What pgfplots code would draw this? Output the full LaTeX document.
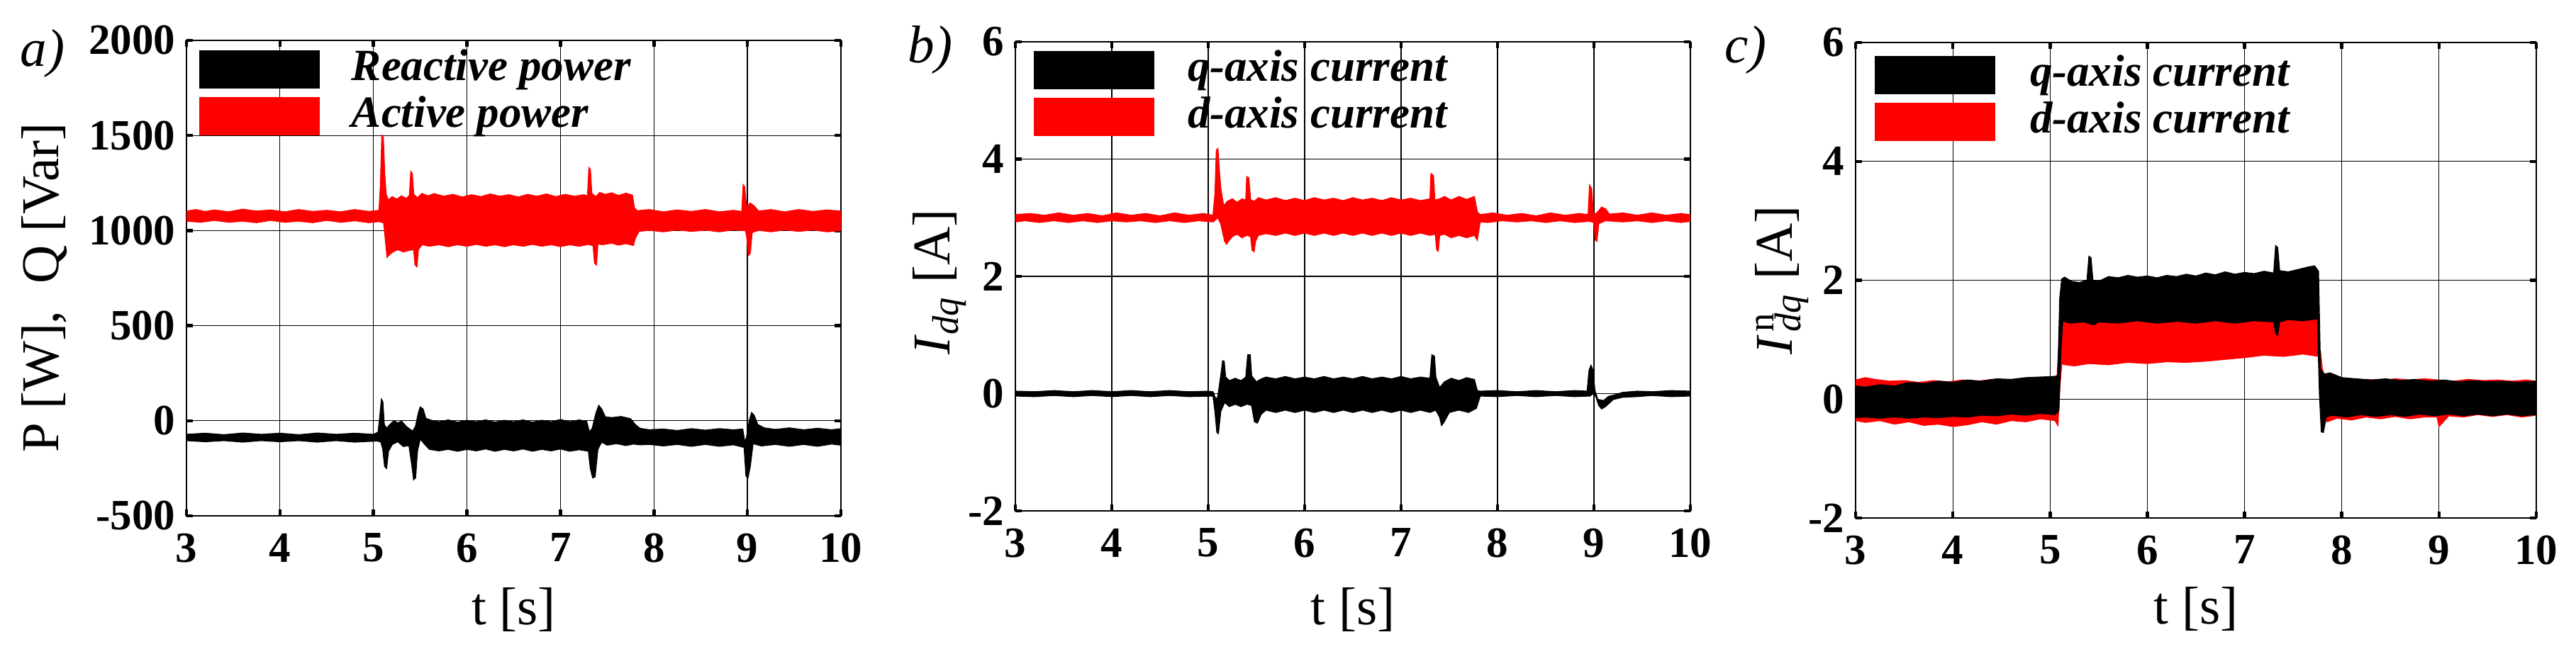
\documentclass[border=0pt]{standalone}
\usepackage{pgfplots}
\pgfplotsset{compat=1.18}
\usepackage{fontspec}
\setmainfont{Liberation Serif}
\begin{document}
\begin{tikzpicture}
\useasboundingbox (0,0) rectangle (726.6pt,184.6pt);
\pgfplotsset{
 mystyle/.style={
  scale only axis, anchor=south west, xmin=3, xmax=10, xtick={3,...,10},
  grid=major, grid style={line width=0.25pt, black},
  axis line style={line width=0.3pt},
  tick align=inside, major tick length=1.8pt, tick style={line width=0.9pt, black},
  /pgf/number format/assume math mode=true, /pgf/number format/1000 sep={},
  scaled y ticks=false,
  ticklabel style={font=\fontsize{12.2}{12.2}\selectfont\bfseries},
  xticklabel style={inner sep=0pt, anchor=north, yshift=-4.8pt},
  yticklabel style={inner sep=0pt, anchor=east, xshift=-3pt},
  label style={font=\fontsize{15}{15}\selectfont},
  legend style={draw=none, fill=none, inner sep=0pt, row sep=2.4pt,
    cells={anchor=west}, nodes={inner sep=0pt, text height=8.4pt, text depth=2pt},
    font=\fontsize{12.6}{12.6}\selectfont\bfseries\itshape},
  legend image code/.code={\fill[##1] (0pt,-5.2pt) rectangle (33.6pt,5.2pt);},
 }
}
% ---------------- a) ----------------
\begin{axis}[mystyle, at={(52.6pt,39pt)}, width=184.6pt, height=134.2pt,
  ymin=-500, ymax=2000, ytick={-500,0,500,1000,1500,2000},
  xlabel={t [s]}, ylabel={P [W],\ \ Q [Var]},
  xlabel style={at={(axis description cs:0.5,-0.197)}, anchor=center},
  ylabel style={at={(axis description cs:-0.2167,0.48)}, anchor=center},
  legend style={at={(rel axis cs:0,1)}, anchor=north west, xshift=3.4pt, yshift=-2.54pt,
    /tikz/every odd column/.append style={column sep=9pt}}]
\addplot[fill=red, draw=red, line width=0.3pt, forget plot] coordinates {
(3.00,1102) (3.10,1110) (3.20,1100) (3.30,1108) (3.45,1098) (3.60,1112) (3.75,1102) (3.90,1108)
(4.05,1098) (4.20,1110) (4.35,1100) (4.50,1106) (4.65,1098) (4.80,1110) (4.95,1100) (5.06,1106)
(5.075,1240) (5.09,1500) (5.105,1490) (5.12,1300) (5.135,1190) (5.16,1160) (5.20,1178) (5.25,1165)
(5.30,1182) (5.35,1168) (5.385,1185) (5.40,1310) (5.415,1300) (5.43,1190) (5.47,1172) (5.52,1195)
(5.58,1182) (5.65,1194) (5.75,1180) (5.85,1190) (5.95,1176) (6.05,1188) (6.15,1178) (6.25,1192)
(6.35,1180) (6.45,1188) (6.55,1176) (6.65,1190) (6.75,1180) (6.85,1192) (6.95,1178) (7.05,1190)
(7.15,1180) (7.25,1188) (7.29,1182) (7.305,1330) (7.32,1320) (7.335,1195) (7.38,1178) (7.42,1200)
(7.48,1190) (7.55,1198) (7.62,1184) (7.70,1196) (7.77,1186) (7.79,1120) (7.82,1104) (7.95,1110)
(8.10,1098) (8.25,1108) (8.40,1100) (8.55,1110) (8.70,1098) (8.85,1106) (8.94,1100) (8.955,1240)
(8.97,1230) (8.99,1120) (9.03,1145) (9.07,1130) (9.12,1102) (9.25,1110) (9.40,1098) (9.55,1110)
(9.70,1100) (9.85,1108) (10.00,1102)
(10.00,1000) (9.85,994) (9.70,1004) (9.55,996) (9.40,1004) (9.25,994) (9.12,1002) (9.05,990)
(9.03,880) (9.01,870) (8.995,960) (8.98,1000) (8.85,1004) (8.70,994) (8.55,1003) (8.40,996)
(8.25,1004) (8.10,994) (7.95,1002) (7.84,996) (7.80,960) (7.78,922) (7.70,932) (7.62,924)
(7.55,934) (7.45,926) (7.40,930) (7.385,820) (7.365,830) (7.35,920) (7.30,928) (7.20,918)
(7.10,926) (7.00,916) (6.90,926) (6.80,918) (6.70,928) (6.60,918) (6.50,926) (6.40,916)
(6.30,926) (6.20,918) (6.10,928) (6.00,918) (5.90,926) (5.80,916) (5.70,926) (5.60,918)
(5.52,926) (5.48,900) (5.465,810) (5.445,820) (5.43,900) (5.38,896) (5.32,888) (5.26,900)
(5.20,886) (5.16,868) (5.145,860) (5.13,940) (5.11,1040) (5.06,1048) (4.95,1042) (4.80,1052)
(4.65,1044) (4.50,1054) (4.35,1042) (4.20,1050) (4.05,1044) (3.90,1054) (3.75,1042) (3.60,1050)
(3.45,1044) (3.30,1054) (3.15,1044) (3.00,1050)
} -- cycle;
\addplot[fill=black, draw=black, line width=0.3pt, forget plot] coordinates {
(3.00,-72) (3.20,-66) (3.40,-74) (3.60,-65) (3.80,-72) (4.00,-66) (4.20,-74) (4.40,-65)
(4.60,-72) (4.80,-66) (5.00,-72) (5.05,-60) (5.07,30) (5.085,112) (5.10,100) (5.115,-20)
(5.14,-40) (5.18,-18) (5.22,0) (5.26,-12) (5.30,-2) (5.35,-30) (5.39,-45) (5.42,-55)
(5.45,-30) (5.48,40) (5.50,72) (5.53,62) (5.56,12) (5.62,2) (5.70,-6) (5.80,4)
(5.90,-8) (6.00,2) (6.10,-6) (6.20,4) (6.30,-8) (6.40,2) (6.50,-6) (6.60,4)
(6.70,-8) (6.80,2) (6.90,-6) (7.00,6) (7.10,-6) (7.20,4) (7.28,-4) (7.31,-60)
(7.34,-40) (7.38,40) (7.41,80) (7.44,62) (7.48,20) (7.55,16) (7.65,22) (7.75,10)
(7.80,-20) (7.85,-40) (7.95,-48) (8.10,-44) (8.25,-52) (8.40,-42) (8.55,-50) (8.70,-42)
(8.85,-48) (8.95,-44) (8.97,-110) (8.99,-90) (9.02,0) (9.045,42) (9.07,30) (9.11,-20)
(9.18,-38) (9.30,-46) (9.45,-38) (9.60,-48) (9.75,-40) (9.90,-48) (10.00,-42)
(10.00,-128) (9.90,-122) (9.75,-134) (9.60,-124) (9.45,-134) (9.30,-124) (9.15,-132) (9.06,-120)
(9.03,-240) (9.005,-300) (8.985,-290) (8.965,-140) (8.85,-126) (8.70,-134) (8.55,-124) (8.40,-134)
(8.25,-124) (8.10,-132) (7.95,-124) (7.85,-126) (7.78,-122) (7.70,-130) (7.60,-120) (7.50,-128)
(7.44,-112) (7.40,-150) (7.37,-295) (7.345,-300) (7.32,-250) (7.30,-160) (7.20,-152) (7.10,-160)
(7.00,-148) (6.90,-158) (6.80,-150) (6.70,-160) (6.60,-148) (6.50,-158) (6.40,-150) (6.30,-160)
(6.20,-148) (6.10,-158) (6.00,-150) (5.90,-160) (5.80,-150) (5.70,-158) (5.60,-150) (5.55,-125)
(5.50,-95) (5.47,-160) (5.45,-300) (5.43,-310) (5.41,-230) (5.38,-130) (5.32,-135) (5.26,-110)
(5.20,-125) (5.16,-160) (5.14,-250) (5.12,-240) (5.10,-150) (5.08,-112) (5.04,-106) (4.80,-112)
(4.60,-104) (4.40,-112) (4.20,-104) (4.00,-110) (3.80,-104) (3.60,-112) (3.40,-104) (3.20,-110)
(3.00,-104)
} -- cycle;
\addlegendimage{fill=black, draw=black}
\addlegendimage{fill=red, draw=red}
\legend{Reactive power, Active power}
\end{axis}
% ---------------- b) ----------------
\begin{axis}[mystyle, at={(286.4pt,40.4pt)}, width=190.4pt, height=132.4pt,
  ymin=-2, ymax=6, ytick={-2,0,2,4,6},
  xlabel={t [s]}, ylabel={\textit{I}\textsubscript{\textit{dq}} [A]},
  xlabel style={at={(axis description cs:0.5,-0.21)}, anchor=center},
  ylabel style={at={(axis description cs:-0.1124,0.488)}, anchor=center},
  legend style={at={(rel axis cs:0,1)}, anchor=north west, xshift=5pt, yshift=-2.34pt,
    /tikz/every odd column/.append style={column sep=9.4pt}}]
\addplot[fill=red, draw=red, line width=0.3pt, forget plot] coordinates {
(3.00,3.05) (3.15,3.07) (3.30,3.04) (3.45,3.08) (3.60,3.04) (3.75,3.07) (3.90,3.03) (4.05,3.08)
(4.20,3.04) (4.35,3.07) (4.50,3.03) (4.65,3.08) (4.80,3.04) (4.95,3.07) (5.05,3.04) (5.07,3.40)
(5.085,4.15) (5.10,4.18) (5.115,3.80) (5.13,3.50) (5.16,3.20) (5.20,3.28) (5.25,3.32) (5.30,3.26)
(5.35,3.32) (5.39,3.30) (5.40,3.70) (5.42,3.68) (5.44,3.30) (5.48,3.28) (5.52,3.34) (5.60,3.30)
(5.70,3.34) (5.80,3.29) (5.90,3.33) (6.00,3.29) (6.10,3.34) (6.20,3.30) (6.30,3.33) (6.40,3.29)
(6.50,3.34) (6.60,3.30) (6.70,3.33) (6.80,3.29) (6.90,3.34) (7.00,3.30) (7.10,3.33) (7.20,3.29)
(7.30,3.32) (7.31,3.75) (7.335,3.72) (7.35,3.30) (7.40,3.32) (7.45,3.36) (7.52,3.30) (7.60,3.36)
(7.68,3.31) (7.76,3.36) (7.79,3.10) (7.82,3.05) (7.95,3.08) (8.10,3.04) (8.25,3.07) (8.40,3.03)
(8.55,3.08) (8.70,3.04) (8.85,3.07) (8.94,3.05) (8.955,3.55) (8.975,3.50) (8.995,3.05) (9.03,3.08)
(9.08,3.18) (9.12,3.15) (9.16,3.06) (9.30,3.08) (9.45,3.04) (9.60,3.08) (9.75,3.04) (9.90,3.07)
(10.00,3.05)
(10.00,2.94) (9.90,2.92) (9.75,2.95) (9.60,2.92) (9.45,2.95) (9.30,2.93) (9.12,2.95) (9.05,2.90)
(9.03,2.60) (9.015,2.62) (9.00,2.92) (8.95,2.94) (8.80,2.92) (8.65,2.95) (8.50,2.92) (8.35,2.95)
(8.20,2.93) (8.05,2.95) (7.90,2.92) (7.82,2.93) (7.79,2.62) (7.76,2.70) (7.68,2.66) (7.60,2.70)
(7.52,2.66) (7.45,2.72) (7.40,2.70) (7.385,2.43) (7.37,2.45) (7.355,2.72) (7.30,2.70) (7.20,2.74)
(7.10,2.70) (7.00,2.74) (6.90,2.70) (6.80,2.74) (6.70,2.70) (6.60,2.74) (6.50,2.70) (6.40,2.74)
(6.30,2.70) (6.20,2.74) (6.10,2.70) (6.00,2.74) (5.90,2.70) (5.80,2.74) (5.70,2.70) (5.60,2.73)
(5.52,2.70) (5.49,2.60) (5.475,2.42) (5.455,2.45) (5.44,2.68) (5.40,2.70) (5.35,2.66) (5.30,2.72)
(5.25,2.68) (5.21,2.60) (5.19,2.55) (5.17,2.60) (5.13,2.90) (5.10,3.00) (5.05,2.93) (4.90,2.95)
(4.75,2.92) (4.60,2.95) (4.45,2.92) (4.30,2.95) (4.15,2.93) (4.00,2.95) (3.85,2.92) (3.70,2.95)
(3.55,2.92) (3.40,2.95) (3.25,2.92) (3.10,2.95) (3.00,2.93)
} -- cycle;
\addplot[fill=black, draw=black, line width=0.3pt, forget plot] coordinates {
(3.00,0.04) (3.20,0.03) (3.40,0.05) (3.60,0.03) (3.80,0.05) (4.00,0.03) (4.20,0.05) (4.40,0.03)
(4.60,0.05) (4.80,0.03) (5.00,0.04) (5.05,0.03) (5.08,-0.10) (5.10,-0.05) (5.13,0.30) (5.15,0.56)
(5.165,0.55) (5.18,0.28) (5.22,0.22) (5.28,0.26) (5.34,0.22) (5.39,0.28) (5.41,0.66) (5.435,0.66)
(5.45,0.30) (5.50,0.20) (5.55,0.25) (5.60,0.28) (5.70,0.25) (5.80,0.29) (5.90,0.25) (6.00,0.28)
(6.10,0.25) (6.20,0.29) (6.30,0.25) (6.40,0.28) (6.50,0.25) (6.60,0.29) (6.70,0.25) (6.80,0.28)
(6.90,0.25) (7.00,0.29) (7.10,0.25) (7.20,0.28) (7.30,0.26) (7.32,0.66) (7.345,0.64) (7.36,0.28)
(7.40,0.10) (7.45,0.20) (7.52,0.26) (7.60,0.22) (7.68,0.27) (7.76,0.24) (7.79,0.05) (7.82,0.04)
(8.00,0.05) (8.20,0.03) (8.40,0.05) (8.60,0.03) (8.80,0.05) (8.93,0.04) (8.95,0.40) (8.97,0.48)
(8.99,0.40) (9.01,0.05) (9.04,-0.10) (9.10,-0.12) (9.15,-0.05) (9.22,-0.02) (9.30,0.02) (9.45,0.04)
(9.60,0.03) (9.80,0.05) (10.00,0.04)
(10.00,-0.04) (9.80,-0.05) (9.60,-0.03) (9.45,-0.05) (9.30,-0.06) (9.20,-0.10) (9.12,-0.22) (9.08,-0.26)
(9.05,-0.20) (9.02,-0.05) (8.99,0.00) (8.96,-0.04) (8.80,-0.05) (8.60,-0.03) (8.40,-0.05) (8.20,-0.03)
(8.00,-0.05) (7.82,-0.04) (7.78,-0.25) (7.70,-0.32) (7.60,-0.28) (7.50,-0.32) (7.44,-0.50) (7.42,-0.54)
(7.40,-0.40) (7.36,-0.28) (7.30,-0.32) (7.20,-0.28) (7.10,-0.32) (7.00,-0.28) (6.90,-0.32) (6.80,-0.28)
(6.70,-0.32) (6.60,-0.28) (6.50,-0.32) (6.40,-0.28) (6.30,-0.32) (6.20,-0.28) (6.10,-0.32) (6.00,-0.28)
(5.90,-0.32) (5.80,-0.28) (5.70,-0.32) (5.60,-0.28) (5.55,-0.35) (5.51,-0.50) (5.48,-0.48) (5.45,-0.20)
(5.40,-0.18) (5.34,-0.22) (5.28,-0.18) (5.22,-0.22) (5.17,-0.15) (5.13,-0.30) (5.105,-0.68) (5.09,-0.66)
(5.07,-0.30) (5.05,-0.04) (4.80,-0.05) (4.60,-0.03) (4.40,-0.05) (4.20,-0.03) (4.00,-0.05) (3.80,-0.03)
(3.60,-0.05) (3.40,-0.03) (3.20,-0.05) (3.00,-0.04)
} -- cycle;
\addlegendimage{fill=black, draw=black}
\addlegendimage{fill=red, draw=red}
\legend{q-axis current, d-axis current}
\end{axis}
% ---------------- c) ----------------
\begin{axis}[mystyle, at={(523.4pt,38.4pt)}, width=192pt, height=134.2pt,
  ymin=-2, ymax=6, ytick={-2,0,2,4,6},
  xlabel={t [s]}, ylabel={\textit{I}\kern0.8pt\rlap{\textsuperscript{n}}\textsubscript{\textit{dq}} [A]},
  xlabel style={at={(axis description cs:0.5,-0.192)}, anchor=center},
  ylabel style={at={(axis description cs:-0.108,0.5)}, anchor=center},
  legend style={at={(rel axis cs:0,1)}, anchor=north west, xshift=5.2pt, yshift=-3.54pt,
    /tikz/every odd column/.append style={column sep=9.8pt}}]
\addplot[fill=red, draw=red, line width=0.3pt, forget plot] coordinates {
(3.00,0.32) (3.10,0.36) (3.20,0.33) (3.35,0.30) (3.50,0.31) (3.65,0.28) (3.80,0.31) (3.95,0.29)
(4.10,0.32) (4.25,0.30) (4.40,0.33) (4.55,0.31) (4.70,0.34) (4.85,0.32) (5.00,0.33) (5.07,0.30)
(5.09,0.90) (5.11,1.30) (5.13,1.38) (5.20,1.36) (5.30,1.40) (5.40,1.35) (5.50,1.38) (5.60,1.33)
(5.70,1.38) (5.80,1.34) (5.90,1.39) (6.00,1.35) (6.20,1.38) (6.40,1.34) (6.60,1.38) (6.80,1.33)
(7.00,1.36) (7.20,1.32) (7.40,1.35) (7.60,1.33) (7.74,1.34) (7.75,0.90) (7.78,0.80) (7.80,0.50)
(7.83,0.35) (7.95,0.32) (8.10,0.30) (8.25,0.33) (8.40,0.31) (8.55,0.34) (8.70,0.32) (8.85,0.34)
(9.00,0.32) (9.15,0.30) (9.30,0.33) (9.45,0.31) (9.60,0.32) (9.75,0.30) (9.90,0.32) (10.00,0.30)
(10.00,-0.27) (9.85,-0.30) (9.70,-0.26) (9.55,-0.29) (9.40,-0.26) (9.25,-0.30) (9.10,-0.28) (9.00,-0.46)
(8.98,-0.30) (8.85,-0.30) (8.70,-0.33) (8.55,-0.29) (8.40,-0.33) (8.25,-0.30) (8.10,-0.35) (7.95,-0.32)
(7.85,-0.38) (7.80,-0.30) (7.78,0.30) (7.76,0.72) (7.60,0.76) (7.40,0.72) (7.20,0.74) (7.00,0.70)
(6.80,0.67) (6.60,0.64) (6.40,0.62) (6.20,0.63) (6.00,0.60) (5.80,0.62) (5.60,0.58) (5.40,0.60)
(5.25,0.56) (5.15,0.58) (5.12,0.60) (5.10,0.20) (5.08,-0.44) (5.05,-0.36) (4.90,-0.33) (4.75,-0.38)
(4.60,-0.36) (4.45,-0.42) (4.30,-0.38) (4.15,-0.43) (4.00,-0.46) (3.85,-0.42) (3.70,-0.44) (3.55,-0.38)
(3.40,-0.42) (3.25,-0.36) (3.10,-0.39) (3.00,-0.36)
} -- cycle;
\addplot[fill=black, draw=black, line width=0.3pt, forget plot] coordinates {
(3.00,0.22) (3.10,0.20) (3.25,0.24) (3.40,0.22) (3.55,0.28) (3.70,0.26) (3.85,0.30) (4.00,0.28)
(4.15,0.32) (4.30,0.30) (4.45,0.34) (4.60,0.33) (4.75,0.36) (4.90,0.37) (5.05,0.38) (5.08,0.40)
(5.10,1.70) (5.12,2.02) (5.15,2.05) (5.22,1.98) (5.30,1.96) (5.38,2.00) (5.40,2.40) (5.42,2.38)
(5.44,2.00) (5.50,1.98) (5.60,2.06) (5.70,2.04) (5.80,2.08) (5.90,2.05) (6.00,2.07) (6.10,2.04)
(6.20,2.08) (6.30,2.06) (6.40,2.10) (6.50,2.07) (6.60,2.12) (6.70,2.09) (6.80,2.14) (6.90,2.10)
(7.00,2.13) (7.10,2.11) (7.20,2.15) (7.30,2.12) (7.32,2.58) (7.34,2.55) (7.36,2.16) (7.45,2.14)
(7.55,2.18) (7.65,2.22) (7.72,2.24) (7.76,2.15) (7.78,0.50) (7.82,0.42) (7.88,0.44) (8.00,0.36)
(8.15,0.34) (8.30,0.32) (8.45,0.34) (8.60,0.31) (8.75,0.33) (8.90,0.30) (9.05,0.32) (9.20,0.29)
(9.35,0.31) (9.50,0.29) (9.65,0.30) (9.80,0.28) (10.00,0.30)
(10.00,-0.26) (9.85,-0.28) (9.70,-0.25) (9.55,-0.28) (9.40,-0.25) (9.25,-0.28) (9.10,-0.25) (8.95,-0.28)
(8.80,-0.25) (8.65,-0.29) (8.50,-0.26) (8.35,-0.29) (8.20,-0.26) (8.05,-0.30) (7.90,-0.27) (7.84,-0.30)
(7.81,-0.56) (7.79,-0.55) (7.77,0.10) (7.75,1.35) (7.60,1.32) (7.45,1.34) (7.36,1.30) (7.34,1.08)
(7.32,1.10) (7.30,1.30) (7.10,1.32) (6.90,1.28) (6.70,1.32) (6.50,1.28) (6.30,1.31) (6.10,1.28)
(5.90,1.32) (5.70,1.28) (5.50,1.30) (5.45,1.25) (5.35,1.30) (5.20,1.28) (5.13,1.32) (5.11,0.80)
(5.09,-0.20) (5.05,-0.26) (4.90,-0.24) (4.75,-0.27) (4.60,-0.25) (4.45,-0.28) (4.30,-0.27) (4.15,-0.30)
(4.00,-0.29) (3.85,-0.31) (3.70,-0.30) (3.55,-0.32) (3.40,-0.30) (3.25,-0.32) (3.10,-0.30) (3.00,-0.31)
} -- cycle;
\addlegendimage{fill=black, draw=black}
\addlegendimage{fill=red, draw=red}
\legend{q-axis current, d-axis current}
\end{axis}
\node[font=\fontsize{15}{15}\selectfont\itshape] at (12pt,169.6pt) {a)};
\node[font=\fontsize{15}{15}\selectfont\itshape] at (262.4pt,170.6pt) {b)};
\node[font=\fontsize{15}{15}\selectfont\itshape] at (492.4pt,170.6pt) {c)};
\end{tikzpicture}
\end{document}
